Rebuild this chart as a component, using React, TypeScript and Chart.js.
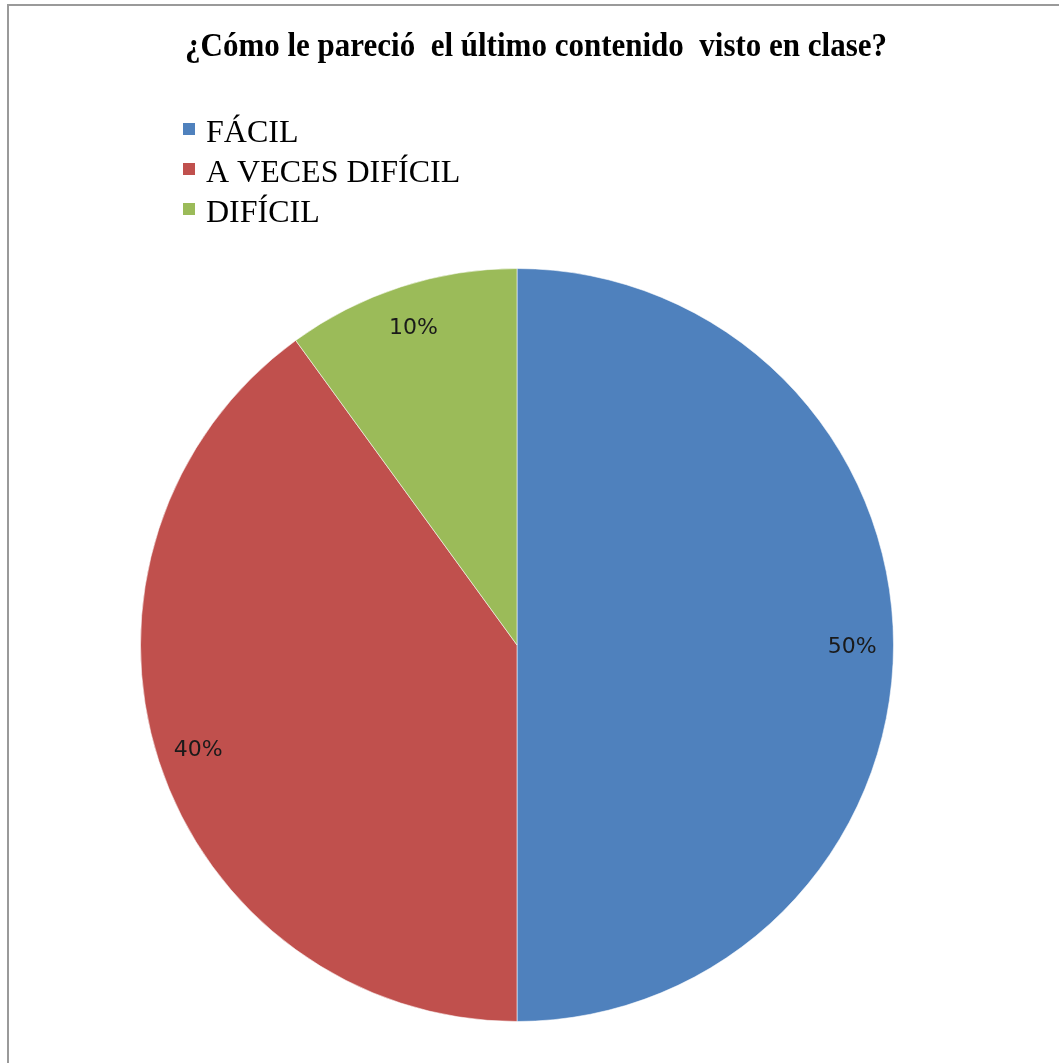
import React, { useEffect, useRef } from "react";
import { Chart, registerables } from "chart.js";

Chart.register(...registerables);

const TITLE = "¿Cómo le pareció  el último contenido  visto en clase?";
const categories = ["FÁCIL", "A VECES DIFÍCIL", "DIFÍCIL"];
const values = [50, 40, 10];
const valueLabels = ["50%", "40%", "10%"];
const colors = ["#4F81BD", "#C0504D", "#9BBB59"];

const W = 1059;
const H = 1063;

const decorPlugin = {
  id: "decor",
  beforeDraw(chart: any) {
    const ctx = chart.ctx;
    ctx.save();
    ctx.fillStyle = "#ffffff";
    ctx.fillRect(0, 0, W, H);
    // frame
    ctx.strokeStyle = "#9a9a9a";
    ctx.lineWidth = 2;
    ctx.beginPath();
    ctx.moveTo(8, H);
    ctx.lineTo(8, 5);
    ctx.lineTo(W, 5);
    ctx.stroke();
    // title (slightly stretched vertically like the reference)
    ctx.save();
    ctx.fillStyle = "#000000";
    ctx.font = "bold 31px 'Liberation Serif', serif";
    ctx.textAlign = "center";
    ctx.textBaseline = "alphabetic";
    ctx.translate(536, 56);
    ctx.scale(1, 1.12);
    ctx.fillText(TITLE, 0, 0);
    ctx.restore();
    // legend
    ctx.textAlign = "left";
    ctx.font = "32px 'Liberation Serif', serif";
    const labels = chart.data.labels as string[];
    const bg = chart.data.datasets[0].backgroundColor as string[];
    labels.forEach((lab, i) => {
      const cy = 129 + i * 40;
      ctx.fillStyle = bg[i];
      ctx.fillRect(183, cy - 6, 12, 12);
      ctx.fillStyle = "#000000";
      ctx.textBaseline = "alphabetic";
      ctx.fillText(lab, 206, cy + 13);
    });
    ctx.restore();
  },
  afterDatasetsDraw(chart: any) {
    const ctx = chart.ctx;
    const meta = chart.getDatasetMeta(0);
    ctx.save();
    ctx.font = "22px 'DejaVu Sans', sans-serif";
    ctx.fillStyle = "#1a1a1a";
    ctx.textAlign = "center";
    ctx.textBaseline = "middle";
    meta.data.forEach((arc: any, i: number) => {
      const p = arc.getProps(["x", "y", "startAngle", "endAngle", "outerRadius"], true);
      const mid = (p.startAngle + p.endAngle) / 2;
      const r = p.outerRadius * 0.89;
      ctx.fillText(valueLabels[i], p.x + Math.cos(mid) * r, p.y + Math.sin(mid) * r + 2);
    });
    ctx.restore();
  },
};

export default function App() {
  const ref = useRef<HTMLCanvasElement | null>(null);
  useEffect(() => {
    document.body.style.margin = "0";
    const chart = new Chart(ref.current as HTMLCanvasElement, {
      type: "pie",
      data: {
        labels: categories,
        datasets: [
          {
            data: values,
            backgroundColor: colors,
            borderColor: "rgba(255,255,255,0.55)",
            borderWidth: 1,
          },
        ],
      },
      options: {
        responsive: false,
        animation: false,
        layout: { padding: { left: 140, right: 165, top: 268, bottom: 41 } },
        plugins: {
          legend: { display: false },
          title: { display: false },
          tooltip: { enabled: false },
        },
      },
      plugins: [decorPlugin],
    });
    return () => chart.destroy();
  }, []);
  return (
    <div style={{ width: W, height: H }}>
      <canvas ref={ref} width={W} height={H} style={{ display: "block" }} />
    </div>
  );
}
